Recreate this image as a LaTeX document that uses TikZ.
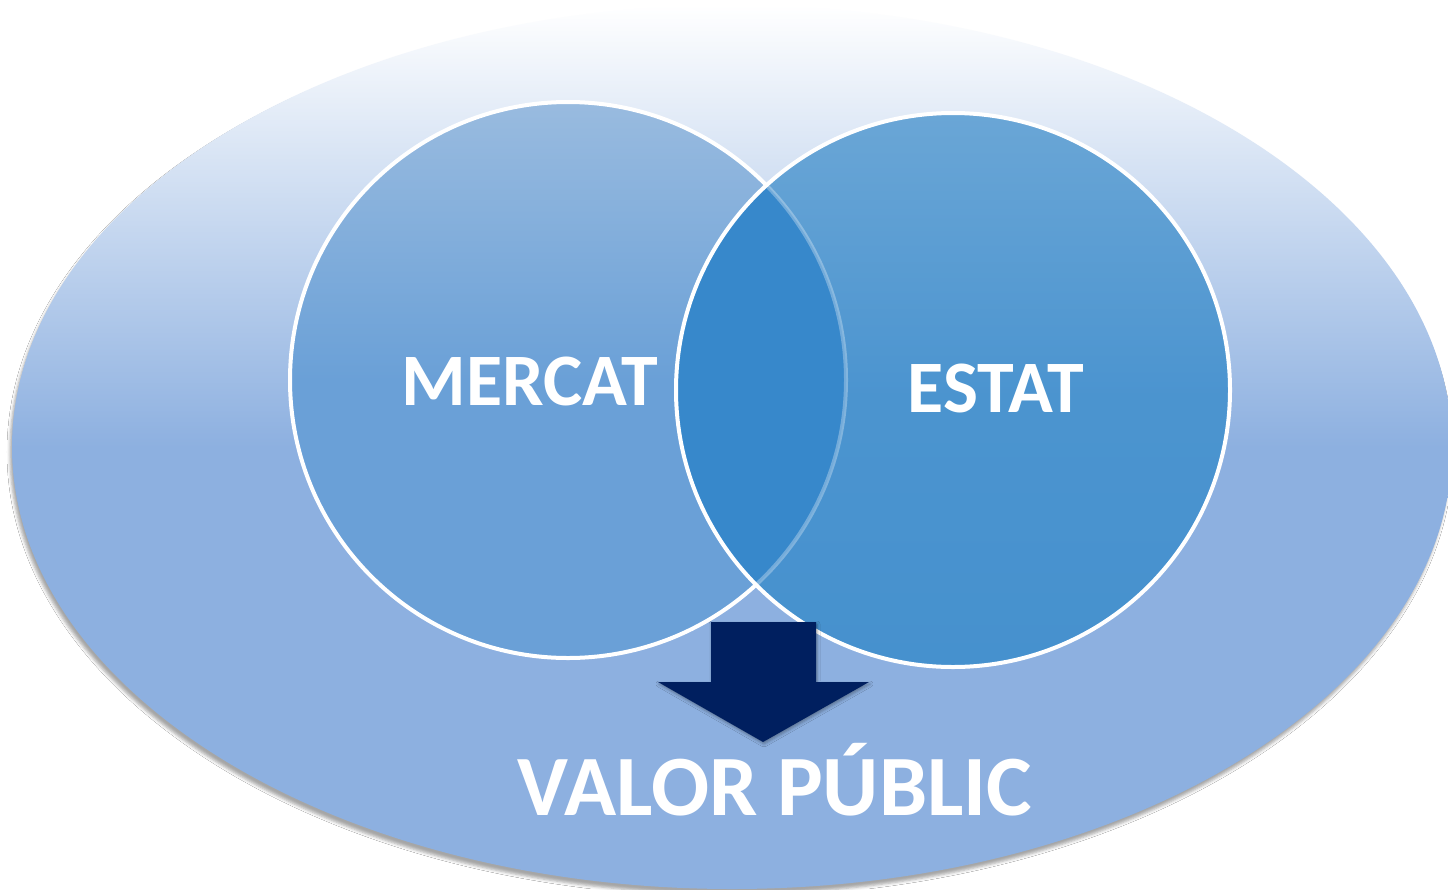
\documentclass[tikz,border=0pt]{standalone}
\usepackage{fontspec}
\setmainfont{Carlito}
\usetikzlibrary{positioning, shapes.geometric, shadows.blur}
\definecolor{outerblue}{HTML}{8DB0E0}
\definecolor{mercattop}{HTML}{99BBDF}
\definecolor{mercatblue}{HTML}{6AA0D7}
\definecolor{estattop}{HTML}{6AA6D6}
\definecolor{estatblue}{HTML}{4691CE}
\definecolor{overlapblue}{HTML}{3788CB}
\definecolor{arrownavy}{HTML}{001F5F}
\tikzset{
	every node/.style={inner sep=0pt, outer sep=0pt},
	field/.style={ellipse, minimum width=1440pt, minimum height=884pt,
		top color=white, bottom color=outerblue, middle color=outerblue,
		blur shadow={shadow xshift=-2pt, shadow yshift=-5pt, shadow blur radius=3pt, shadow opacity=35}},
	set/.style={circle, minimum size=556pt},
	ring/.style={draw=white, line width=4pt},
	word/.style={anchor=base, text=white, font=\bfseries\fontsize{74}{80}\selectfont},
	bigword/.style={word, font=\bfseries\fontsize{86}{95}\selectfont},
	downarrow/.style={fill=arrownavy,
		blur shadow={shadow xshift=1pt, shadow yshift=-2pt, shadow blur radius=3pt, shadow opacity=35}}
}

\begin{document}
\begin{tikzpicture}[x=1pt, y=-1pt]
	\useasboundingbox (0,0) rectangle (1448,889);
	\fill[white] (0,0) rectangle (1448,889);
	\clip (0,0) rectangle (1448,889);

	\node[field] (space) at (732,447) {};

	\node[set, top color=mercattop, bottom color=mercatblue, middle color=mercatblue] (mercat) at (568,380) {};
	\draw[ring] (mercat.center) circle[radius=278pt];
	\node[set, minimum size=554pt, top color=estattop, bottom color=estatblue, middle color=estatblue!97!white] (estat) at (953,390) {};

	% common part
	\begin{scope}
		\clip (mercat.center) circle[radius=278pt];
		\fill[overlapblue] (estat.center) circle[radius=277pt];
	\end{scope}
	\begin{scope}
		\clip (estat.center) circle[radius=277pt];
		\draw[white, line width=4pt, opacity=0.3] (mercat.center) circle[radius=278pt];
	\end{scope}
	\draw[ring] (estat.center) circle[radius=277pt];

	\node[word] (mercatname) at (530,405) {MERCAT};
	\node[word] (estatname) at (996,412) {ESTAT};

	\path[downarrow] (711,622) -- (816,622) -- (816,682) -- (869,682)
		-- (763,742) -- (658,682) -- (711,682) -- cycle;

	\node[bigword] (valor) at (775,815) {VALOR PÚBLIC};
\end{tikzpicture}
\end{document}
